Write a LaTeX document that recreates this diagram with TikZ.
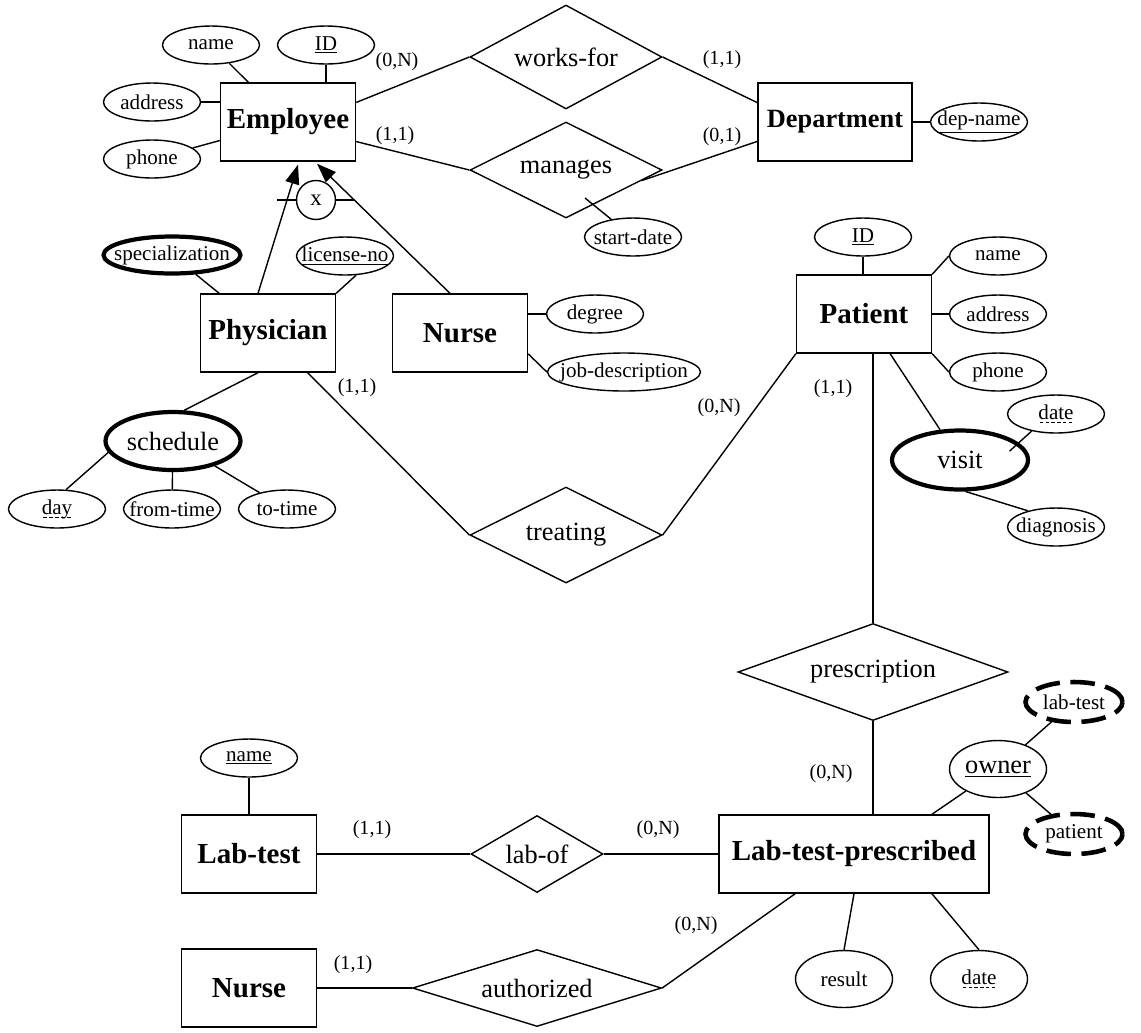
\documentclass[tikz,border=0pt]{standalone}
\usepackage{fontspec}
\setmainfont{Liberation Serif}
\usetikzlibrary{shapes.geometric,arrows.meta,calc}

\newcommand{\entfont}{\fontsize{16.5}{18}\selectfont\bfseries}
\newcommand{\relfont}{\fontsize{15}{17}\selectfont}
\newcommand{\attfont}{\fontsize{12}{14}\selectfont}
\newcommand{\cardfont}{\fontsize{11.4}{13}\selectfont}
\newcommand{\tx}[1]{\makebox[0pt]{#1}}
% dashed underline
\newcommand{\dul}[1]{\setbox0\hbox{#1}\rlap{\raisebox{-2pt}{\hbox to \wd0{\xleaders\hbox to 3pt{\hss\vrule height 0.45pt width 2pt\hss}\hfil}}}\box0}

\tikzset{
  ent/.style={draw, rectangle, inner sep=0pt, minimum width=2.7cm, minimum height=1.56cm, font=\entfont},
  rel/.style={draw, diamond, inner sep=0pt, minimum width=3.84cm, minimum height=1.92cm, font=\relfont},
  att/.style={draw, ellipse, inner sep=0pt, minimum width=1.94cm, minimum height=0.76cm, font=\attfont},
  multi/.style={att, line width=2.4pt, font=\relfont},
  weak/.style={att, line width=2.6pt, dash pattern=on 14pt off 6pt},
  card/.style={inner sep=0pt, font=\cardfont},
  isaarrow/.style={-{Triangle[length=11pt,width=8pt]}},
}

\begin{document}
\begin{tikzpicture}[x=0.02cm, y=-0.02cm, line width=0.8pt]
		\useasboundingbox (0,0) rectangle (1141,1032);

		% employee and department
		\node[ent] (emp) at (288,122) {Employee};
		\node[att] (ename) at (211,45) {\tx{name}};
		\node[att] (eid) at (326,45) {\tx{\underline{ID}}};
		\node[att] (eaddr) at (152,102) {\tx{address}};
		\node[att] (ephone) at (152,159) {\tx{phone}};
		\node[rel, minimum height=2.08cm] (wf) at (566,57) {\tx{works-for}};
		\node[rel] (mng) at (566,170) {\tx{manages}};
		\node[ent, minimum width=3.08cm, font=\fontsize{15}{17}\selectfont\bfseries] (dept) at (835,122) {Department};
		\node[att] (dname) at (979,122) {\tx{\underline{dep-name}}};
		\node[att] (sdate) at (633,237) {\tx{start-date}};
		\coordinate (sdtip) at (585,198);

		\draw (ename) -- (emp);
		\draw (eid.south) -- (eid.south |- emp.north);
		\draw (eaddr.east) -- (eaddr.east -| emp.west);
		\draw (ephone) -- (emp);
		\draw (emp.16) -- (wf.west);
		\draw (emp.-16) -- (mng.west);
		\draw (wf.east) -- (dept.166);
		\draw (mng.-8) -- (dept.194);
		\draw (dname) -- (dept);
		\draw (sdate) -- (sdtip);

		\node[card] (c1) at (397,62) {(0,N)};
		\node[card] (c2) at (395,136) {(1,1)};
		\node[card] (c3) at (722,60) {(1,1)};
		\node[card] (c4) at (722,137) {(0,1)};

		% specialisation
		\node[circle, draw, inner sep=0pt, minimum size=0.78cm, font=\fontsize{13}{15}\selectfont] (isa) at (316,200) {x};
		\draw (isa.west) -- ++(-19,0);
		\draw (isa.east) -- ++(19,0);

		\node[ent] (phys) at (268,333) {Physician};
		\node[ent] (nurse) at (460,333) {Nurse};
		\draw[isaarrow] ($(phys.north)+(-10,0)$) -- ($(emp.south)+(10,3)$);
		\draw[isaarrow] ($(nurse.north)+(-10,0)$) -- ($(emp.south)+(29,2)$);

		\node[multi, font=\attfont, minimum width=2.74cm, minimum height=0.74cm] (spec) at (172,255) {\tx{specialization}};
		\node[att] (lic) at (345,256) {\tx{\underline{license-no}}};
		\node[multi, minimum width=2.7cm, minimum height=1.16cm] (sched) at (173,441) {\tx{schedule}};
		\node[att] (day) at (57,509) {\tx{\dul{day}}};
		\node[att] (ftime) at (172,509) {\tx{from-time}};
		\node[att] (ttime) at (287,509) {\tx{to-time}};
		\node[att] (degree) at (595,314) {\tx{degree}};
		\node[att, minimum width=3.06cm] (jobd) at (624,372) {\tx{job-description}};

		\draw (spec) -- (phys);
		\draw (lic.-60) -- (phys.north east);
		\draw (sched.70) -- ($(phys.south)+(-10,0)$);
		\draw (sched.190) -- (day.65);
		\draw (sched) -- (ftime);
		\draw (sched) -- (ttime);
		\draw (degree.west) -- (degree.west -| nurse.east);
		\draw (nurse.-17) -- (jobd.west);

		% patient
		\node[rel] (treat) at (566,535) {\tx{treating}};
		\node[ent] (pat) at (864,314) {Patient};
		\node[att] (pid) at (863,237) {\tx{\underline{ID}}};
		\node[att] (pname) at (998,256) {\tx{name}};
		\node[att] (paddr) at (998,314) {\tx{address}};
		\node[att] (pphone) at (998,372) {\tx{phone}};
		\node[multi, minimum width=2.72cm, minimum height=1.18cm] (visit) at (960,460) {\tx{visit}};
		\node[att] (vdate) at (1056,414) {\tx{\dul{date}}};
		\node[att] (diag) at (1056,527) {\tx{diagnosis}};

		\draw (phys) -- (treat.west);
		\draw (treat.east) -- (pat.south west);
		\draw (pid.south) -- (pid.south |- pat.north);
		\draw (pname.west) -- (pat.north east);
		\draw (paddr.west) -- (paddr.west -| pat.east);
		\draw (pphone.west) -- (pat.south east);
		\draw (pat) -- (visit);
		\draw (vdate.-145) -- ++(-22,20);
		\draw (visit.-80) -- (diag.150);

		\node[card] (c5) at (357,388) {(1,1)};
		\node[card] (c6) at (719,408) {(0,N)};
		\node[card] (c7) at (833,389) {(1,1)};

		% lab tests
		\node[rel, minimum width=5.4cm, minimum height=1.94cm] (presc) at (873,672) {\tx{prescription}};
		\node[ent, minimum width=5.4cm] (ltp) at (854,854) {Lab-test-prescribed};
		\node[att, minimum height=1.14cm, font=\relfont] (owner) at (998,769) {\tx{\underline{owner}}};
		\node[weak, minimum height=0.8cm] (olab) at (1074,702) {\tx{lab-test}};
		\node[weak, minimum height=0.8cm] (opat) at (1074,834) {\tx{patient}};
		\node[att, minimum height=1.14cm] (result) at (844,979) {\tx{result}};
		\node[att, minimum height=1.14cm] (ldate) at (979,979) {\tx{\dul{date}}};

		\draw (presc.north) -- (presc.north |- pat.south);
		\draw (presc.south) -- (presc.south |- ltp.north);
		\draw (owner) -- (ltp.27);
		\draw (owner) -- (olab);
		\draw (owner) -- (opat);
		\draw (result.north) -- (ltp.south);
		\draw (ldate.north) -- (ltp.-27);

		\node[ent] (lab) at (249,854) {Lab-test};
		\node[att] (lname) at (249,758) {\tx{\underline{name}}};
		\node[rel, minimum width=2.64cm, minimum height=1.54cm] (labof) at (537,854) {\tx{lab-of}};
		\node[ent] (nurse2) at (249,988) {Nurse};
		\node[rel, minimum width=4.98cm, minimum height=1.54cm] (auth) at (537,988) {\tx{authorized}};

		\draw (lname.south) -- (lname.south |- lab.north);
		\draw (lab) -- (labof);
		\draw (labof) -- (ltp);
		\draw (nurse2) -- (auth);
		\draw (auth.east) -- (ltp.-146);

		\node[card] (c8) at (831,774) {(0,N)};
		\node[card] (c9) at (372,830) {(1,1)};
		\node[card] (c10) at (658,830) {(0,N)};
		\node[card] (c11) at (353,965) {(1,1)};
		\node[card] (c12) at (696,926) {(0,N)};
\end{tikzpicture}
\end{document}
